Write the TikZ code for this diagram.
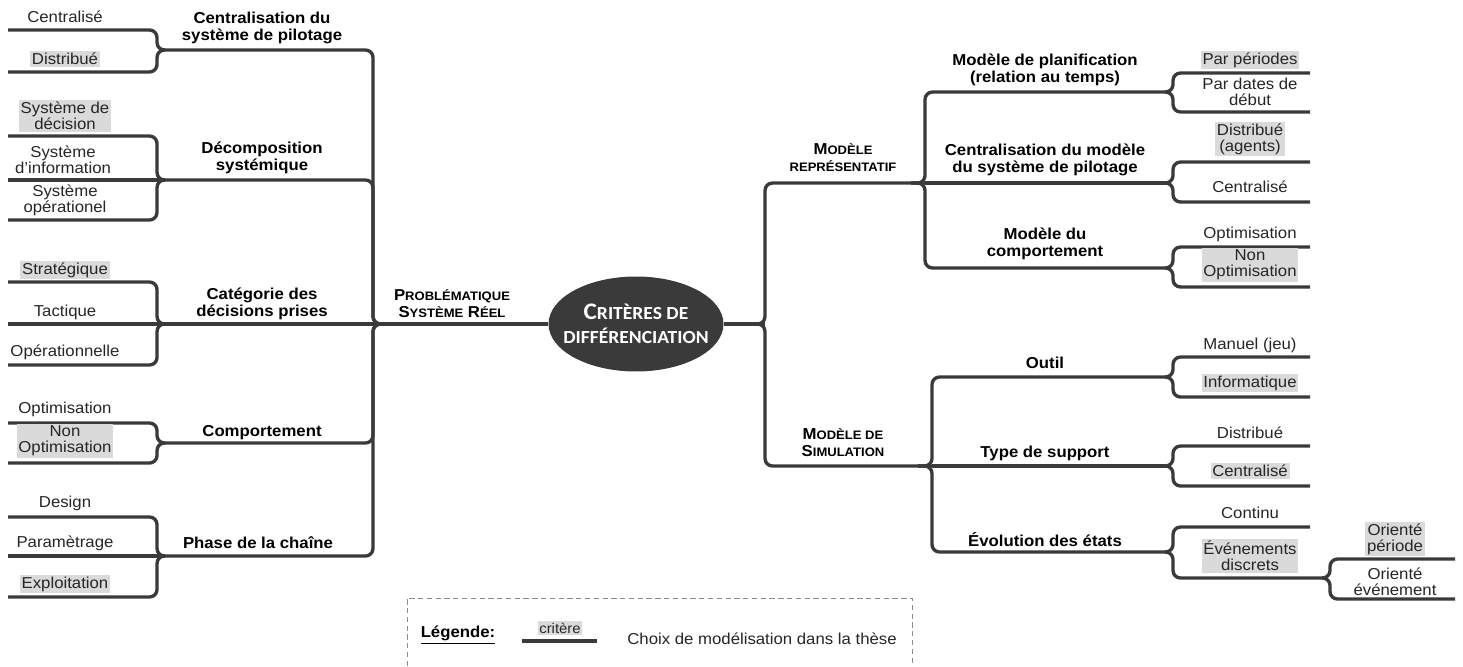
\documentclass[tikz,border=0pt]{standalone}
\usepackage{fontspec}
\setmainfont{Liberation Sans}[FakeStretch=1.06]
\newfontfamily\critfont{Carlito}[FakeStretch=1.06]
\usetikzlibrary{shapes.geometric,calc}

\definecolor{trait}{HTML}{3A3A3A}
\definecolor{choix}{HTML}{DADADA}

% petites capitales simulees
\newcommand{\fsc}[2]{{\fontsize{9}{9.6}\selectfont #1}{\fontsize{7}{9.6}\selectfont #2}}

\tikzset{
  branch/.style={draw=trait, line width=1.9pt, rounded corners=0.15cm},
  leaf/.style={font=\fontsize{9}{9.2}\selectfont, align=center, inner sep=1pt, text=black!85},
  choisi/.style={leaf, fill=choix},
  crit/.style={font=\fontsize{9}{10}\selectfont\bfseries, align=center, inner sep=1pt},
  domaine/.style={font=\fontsize{9}{9.6}\selectfont\bfseries, align=center, inner sep=1pt},
}

% feuille a gauche : style, nom, jonction, y du trait, y du texte, texte
\newcommand{\leafL}[6]{%
  \coordinate (#2) at (8,#4);
  \node[#1] (#2-t) at (65,#5) {#6};
  \draw[branch] (#2) -| ($(#3)+(-8,0)$) -- (#3);}
% feuille a droite
\newcommand{\leafR}[6]{%
  \coordinate (#2) at (1310,#4);
  \node[#1] (#2-t) at (1250,#5) {#6};
  \draw[branch] (#2) -| ($(#3)+(8,0)$) -- (#3);}

\begin{document}
\begin{tikzpicture}[x=0.02cm, y=-0.02cm]
\useasboundingbox (0,0) rectangle (1463,666);

% centre
\node[ellipse, fill=trait, minimum width=3.5cm, minimum height=1.9cm, inner xsep=-14pt, inner ysep=-6pt,
      text=white, align=center, font=\critfont\bfseries\fontsize{10.5}{13.5}\selectfont] (crit) at (636,324)
      {{\fontsize{13.5}{13.5}\selectfont C}RITÈRES DE\\DIFFÉRENCIATION};

% ---- cote gauche : systeme reel
\coordinate (hubL) at (373,324);
\coordinate (jcent) at (165,50);
\coordinate (jdec) at (165,180);
\coordinate (jcat) at (165,324);
\coordinate (jcomp) at (165,443);
\coordinate (jphase) at (165,556);

\draw[branch] (jcent) -| (hubL) -- ++(14,0);
\draw[branch] (jdec) -| (hubL) -- ++(14,0);
\draw[branch] (jcomp) -| (hubL) -- ++(14,0);
\draw[branch] (jphase) -| (hubL) -- ++(14,0);
\draw[branch] (jcat) -- (crit);

\node[domaine] (pb) at (452,304) {\fsc{P}{ROBLÉMATIQUE}\\\fsc{S}{YSTÈME} \fsc{R}{ÉEL}};
\node[crit] (cent) at (262,28) {Centralisation du\\système de pilotage};
\node[crit] (dec) at (262,158) {Décomposition\\systémique};
\node[crit] (cat) at (262,304) {Catégorie des\\décisions prises};
\node[crit] (comp) at (262,433) {Comportement};
\node[crit] (phase) at (258,543) {Phase de la chaîne};

\leafL{leaf}{centr}{jcent}{30}{17}{Centralisé}
\leafL{choisi}{distr}{jcent}{72}{59}{Distribué}
\leafL{choisi}{sdec}{jdec}{136}{116}{Système de\\décision}
\coordinate (sinf) at (8,180);
\node[leaf] (sinf-t) at (63,160) {Système\\d'information};
\draw[branch] (sinf) -- (jdec);
\leafL{leaf}{sop}{jdec}{220}{200}{Système\\opérationel}
\leafL{choisi}{strat}{jcat}{282}{270}{Stratégique}
\coordinate (tact) at (8,324);
\node[leaf] (tact-t) at (65,312) {Tactique};
\draw[branch] (tact) -- (jcat);
\leafL{leaf}{oper}{jcat}{365}{352}{Opérationnelle}
\leafL{leaf}{optl}{jcomp}{423}{409}{Optimisation}
\leafL{choisi}{noptl}{jcomp}{463}{441}{Non\\Optimisation}
\leafL{leaf}{design}{jphase}{517}{503}{Design}
\coordinate (param) at (8,556);
\node[leaf] (param-t) at (65,543) {Paramètrage};
\draw[branch] (param) -- (jphase);
\leafL{choisi}{exploit}{jphase}{597}{584}{Exploitation}

% ---- cote droit : modeles
\coordinate (hubR) at (765,324);
\coordinate (jrep) at (925,183);
\coordinate (jsim) at (932,466);
\draw[branch] (crit) -- (hubR);
\draw[branch] (jrep) -| (hubR) -- ++(-14,0);
\draw[branch] (jsim) -| (hubR) -- ++(-14,0);

\node[domaine] (rep) at (843,158) {\fsc{M}{ODÈLE}\\\fsc{}{REPRÉSENTATIF}};
\node[domaine] (sim) at (843,443) {\fsc{M}{ODÈLE DE}\\\fsc{S}{IMULATION}};

\coordinate (jplan) at (1165,92);
\coordinate (jcmod) at (1165,183);
\coordinate (jcomr) at (1165,268);
\draw[branch] (jplan) -| (jrep) -- ++(-14,0);
\draw[branch] (jcmod) -- (jrep);
\draw[branch] (jcomr) -| (jrep) -- ++(-14,0);

\coordinate (joutil) at (1165,377);
\coordinate (jtype) at (1165,466);
\coordinate (jevol) at (1165,552);
\draw[branch] (joutil) -| (jsim) -- ++(-14,0);
\draw[branch] (jtype) -- (jsim);
\draw[branch] (jevol) -| (jsim) -- ++(-14,0);

\node[crit] (plan) at (1045,70) {Modèle de planification\\(relation au temps)};
\node[crit] (cmod) at (1045,160) {Centralisation du modèle\\du système de pilotage};
\node[crit] (comr) at (1045,244) {Modèle du\\comportement};
\node[crit] (outil) at (1045,363) {Outil};
\node[crit] (type) at (1045,453) {Type de support};
\node[crit] (evol) at (1045,540) {Évolution des états};

\leafR{choisi}{perio}{jplan}{73}{60}{Par périodes}
\leafR{leaf}{dates}{jplan}{112}{92}{Par dates de\\début}
\leafR{choisi}{agents}{jcmod}{162}{139}{Distribué\\(agents)}
\leafR{leaf}{centm}{jcmod}{202}{187}{Centralisé}
\leafR{leaf}{optr}{jcomr}{247}{234}{Optimisation}
\leafR{choisi}{noptr}{jcomr}{287}{265}{Non\\Optimisation}
\leafR{leaf}{manuel}{joutil}{357}{345}{Manuel (jeu)}
\leafR{choisi}{info}{joutil}{397}{383}{Informatique}
\leafR{leaf}{distrs}{jtype}{446}{433}{Distribué}
\leafR{choisi}{centrs}{jtype}{486}{471}{Centralisé}
\leafR{leaf}{continu}{jevol}{527}{513}{Continu}

% evenements discrets
\coordinate (jevt) at (1322,578);
\node[choisi] (evt) at (1250,556) {Événements\\discrets};
\draw[branch] (jevt) -| ($(jevol)+(8,0)$) -- (jevol);
\coordinate (operi) at (1455,559);
\coordinate (oeven) at (1455,599);
\node[choisi] (operi-t) at (1395,539) {Orienté\\période};
\node[leaf] (oeven-t) at (1395,582) {Orienté\\événement};
\draw[branch] (operi) -| ($(jevt)+(8,0)$) -- (jevt);
\draw[branch] (oeven) -| ($(jevt)+(8,0)$) -- (jevt);

% legende
\draw[black!45, densely dashed, line width=0.5pt] (407,666) |- (912,598) -- (912,666);
\node[font=\fontsize{9}{10}\selectfont\bfseries, inner sep=1pt] (leg) at (458,635) {\underline{Légende:}};
\coordinate (ex-a) at (522,641);
\coordinate (ex-b) at (597,641);
\draw[branch] (ex-a) -- (ex-b);
\node[choisi, font=\fontsize{8}{9}\selectfont] (ex-t) at (560,628) {critère};
\node[leaf] (ex-d) at (762,639) {Choix de modélisation dans la thèse};
\end{tikzpicture}
\end{document}
